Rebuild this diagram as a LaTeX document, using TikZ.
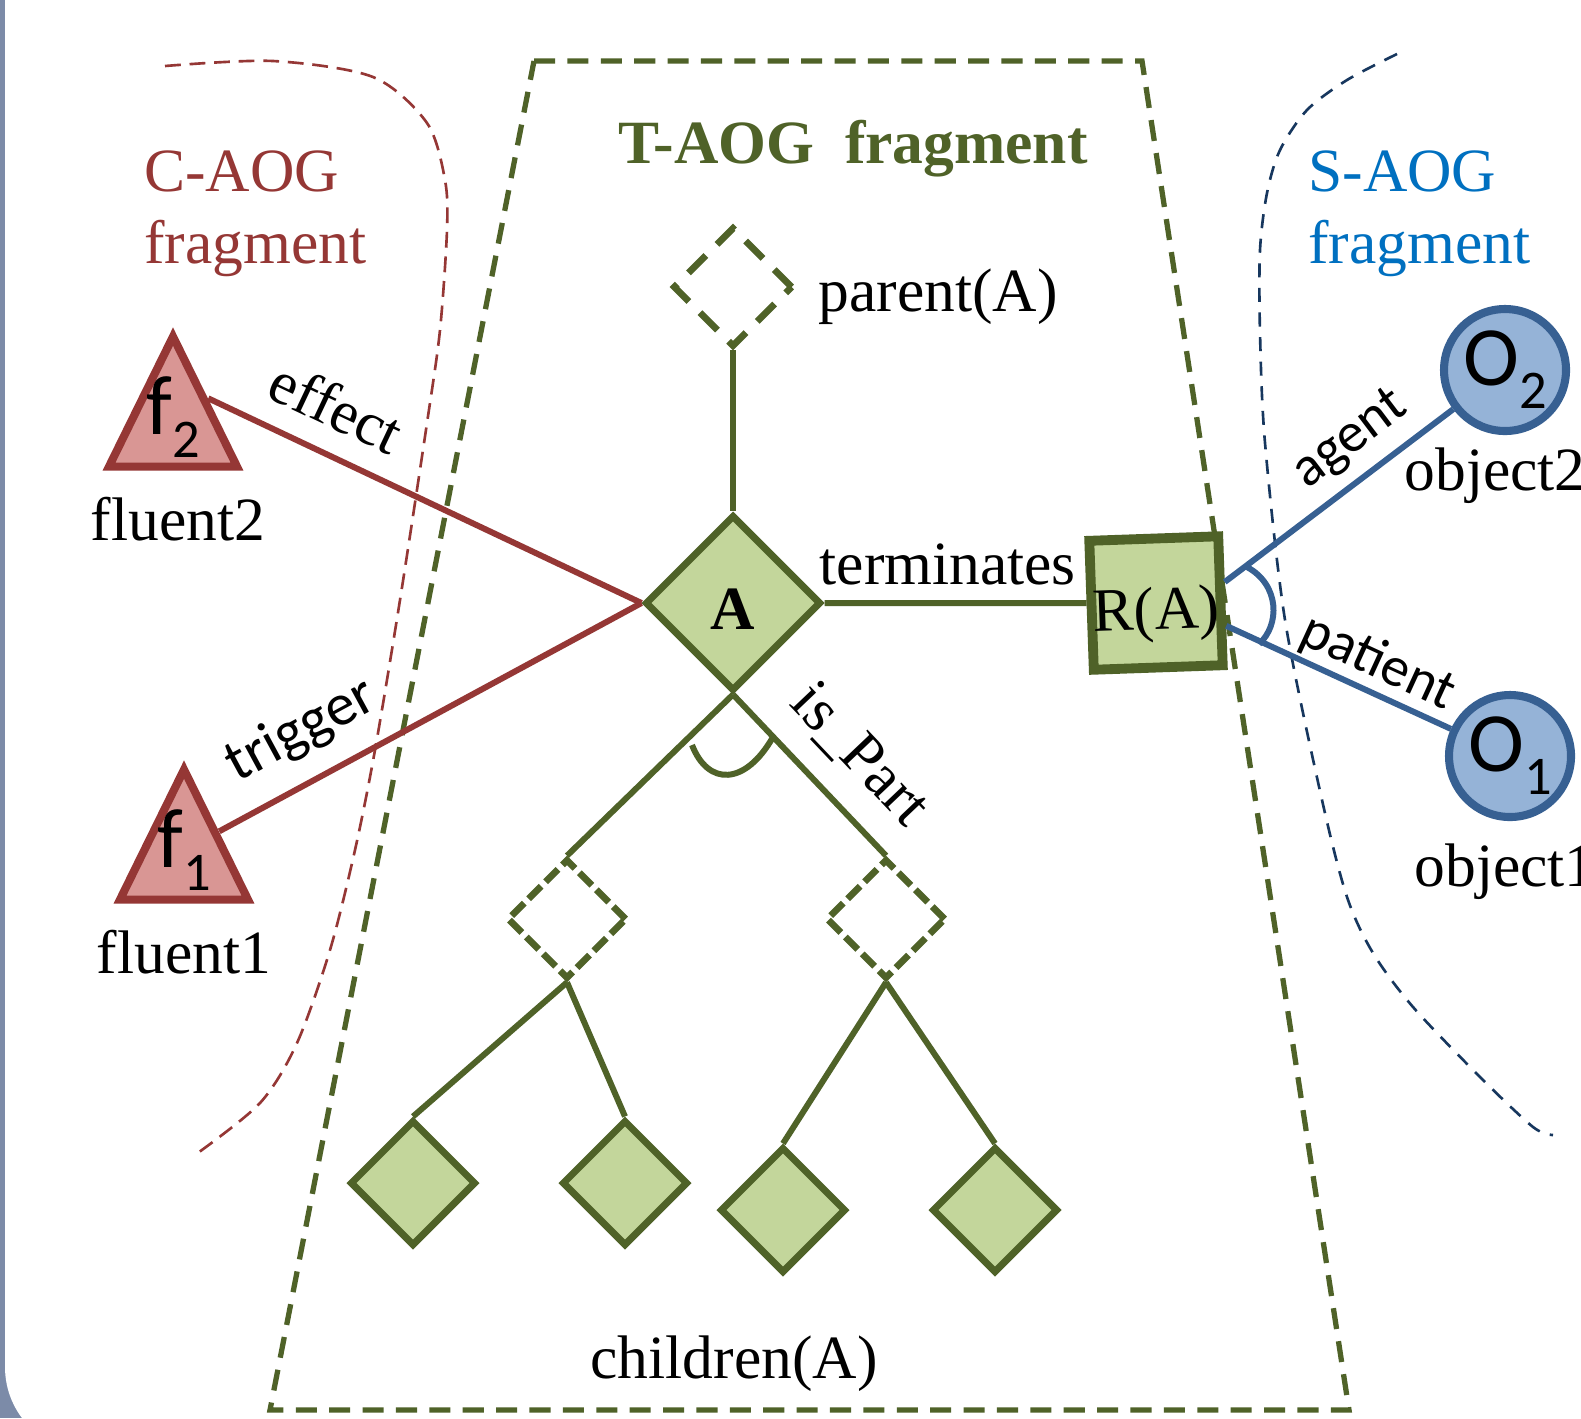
\documentclass[tikz,border=0pt]{standalone}
\usepackage{fontspec}
\setmainfont{Liberation Serif}
\newfontfamily\calibri{Carlito}
\usetikzlibrary{shapes.geometric,positioning}

\definecolor{tgreen}{HTML}{4F6228}
\definecolor{tfill}{HTML}{C3D69B}
\definecolor{cred}{HTML}{953735}
\definecolor{cfill}{HTML}{D99694}
\definecolor{sblue}{HTML}{376092}
\definecolor{sfill}{HTML}{95B3D7}
\definecolor{stext}{HTML}{0070C0}
\definecolor{sdash}{HTML}{17375E}
\definecolor{panel}{HTML}{7C8BA8}

\newcommand{\txtsize}{\fontsize{17.5}{20.5}\selectfont}
\newcommand{\symsize}{\fontsize{24}{24}\selectfont}
\newcommand{\subsym}[1]{\raisebox{-6.5pt}{\fontsize{15.5}{15.5}\selectfont #1}}
\newcommand{\fluent}[1]{\raisebox{2.6pt}[0pt][0pt]{f\subsym{#1}}}

\begin{document}
\begin{tikzpicture}[x=0.1mm,y=-0.1mm,font=\txtsize,
    andnode/.style={diamond,draw=tgreen,fill=tfill,line width=2pt,inner sep=0pt},
    ornode/.style={diamond,draw=tgreen,line width=1.9pt,inner sep=0pt},
    fluentnode/.style={isosceles triangle,isosceles triangle stretches,shape border rotate=90,
      minimum width=12.8mm,minimum height=13mm,draw=cred,fill=cfill,line width=2.3pt,
      inner sep=0pt,font=\calibri\symsize},
    objnode/.style={circle,draw=sblue,fill=sfill,line width=2.3pt,minimum size=12.2mm,
      inner sep=0pt,font=\calibri\symsize},
    tedge/.style={draw=tgreen,line width=1.7pt},
    cedge/.style={draw=cred,line width=1.7pt},
    sedge/.style={draw=sblue,line width=1.7pt},
    relfont/.style={font=\calibri\fontsize{16}{16}\selectfont}]

  \useasboundingbox (0,0) rectangle (1581,1418);
  \fill[panel] (0,0) rectangle (120,1418);
  \fill[white,rounded corners=8.5mm] (5,-100) rectangle (1700,1452);

  % fragment borders
  \draw[cred,line width=0.75pt,dash pattern=on 4.5pt off 2.5pt] plot[smooth] coordinates {
    (165,66) (273,61) (373,77) (427,123) (445,180) (447,230) (440,330) (427,423)
    (400,600) (375,750) (355,850) (330,950) (297,1043) (260,1103) (195,1155)};
  \draw[sdash,line width=0.75pt,dash pattern=on 4pt off 3pt] plot[smooth] coordinates {
    (1397,54) (1347,80) (1307,110) (1280,150) (1267,193) (1260,250) (1260,333) (1265,443)
    (1285,620) (1322,800) (1347,897) (1373,953) (1413,1007) (1480,1077) (1533,1127) (1553,1135)};
  \draw[tgreen,line width=1.5pt,dash pattern=on 6pt off 3.5pt]
    (534,61) -- (1142,61) -- (1349,1410) -- (270,1410) -- cycle;

  \node[text=cred,align=left,anchor=north west] (ctitle) at (132,138) {C-AOG\\fragment};
  \node[text=stext,align=left,anchor=north west] (stitle) at (1296,138) {S-AOG\\fragment};
  \node[text=tgreen,font=\bfseries\txtsize] (ttitle) at (853,149) {T-AOG\hspace{0.5em}fragment};

  % T-AOG
  \node[andnode,minimum size=17.6mm,font=\bfseries\txtsize,text height=15pt,text depth=0pt] (A) at (733,603) {A};
  \node[ornode,minimum size=12mm,dash pattern=on 7pt off 4.5pt] (pa) at (733,287) {};
  \node[right=1mm of pa,yshift=-1mm] (paname) {parent(A)};
  \begin{scope}[every node/.style={ornode,minimum size=12mm,dash pattern=on 5pt off 1.8pt}]
    \node (dl) at (567,919) {};
    \node (dr) at (886,919) {};
  \end{scope}
  \begin{scope}[every node/.style={andnode,minimum size=12.6mm}]
    \node (c1) at (413,1183) {};
    \node (c2) at (625,1183) {};
    \node (c3) at (783,1210) {};
    \node (c4) at (995,1210) {};
  \end{scope}
  \node (chname) at (734,1364) {children(A)};
  \node[draw=tgreen,fill=tfill,line width=2.8pt,minimum size=12.9mm,inner sep=0pt,rotate=2,
    text height=15pt,text depth=0pt] (R) at (1156,603) {R(A)};

  % C-AOG
  \node[fluentnode,anchor=apex] (f2) at (173,326) {\fluent{2}};
  \node[fluentnode,anchor=apex] (f1) at (184,759) {\fluent{1}};
  \node[below=1.4mm of f2,xshift=0.5mm] (f2name) {fluent2};
  \node[below=1.4mm of f1] (f1name) {fluent1};

  % S-AOG
  \node[objnode] (O2) at (1505,370) {O\subsym{2}};
  \node[objnode] (O1) at (1510,756) {O\subsym{1}};
  \node[below=0mm of O2,xshift=-1mm] (O2name) {object2};
  \node[below=1mm of O1,xshift=-0.5mm] (O1name) {object1};

  \draw[tedge] (pa) -- (A);
  \draw[tedge] (A) -- node[pos=0.47,above=1pt] (term) {terminates} (R);
  \draw[tedge] (A.south) -- (dl.north);
  \draw[tedge] (A.south) -- node[sloped,pos=0.59,above=3pt] (isp) {is\_Part} (dr.north);
  \draw[tedge] (dl.south) -- (c1.north);
  \draw[tedge] (dl.south) -- (c2.north);
  \draw[tedge] (dr.south) -- (c3.north);
  \draw[tedge] (dr.south) -- (c4.north);
  \draw[tedge] (692,745) .. controls (708,786) and (745,786) .. (773,737);

  \draw[cedge] (f2.right side) -- node[sloped,pos=0.25,above=3pt] (eff) {effect} (A.west);
  \draw[cedge] (f1.right side) -- node[sloped,pos=0.25,above=2.5pt,font=\calibri\fontsize{17}{17}\selectfont] (trg) {trigger} (A.west);

  \draw[sedge] (R.15) -- node[sloped,pos=0.65,above,relfont] (agt) {agent} (O2);
  \draw[sedge] (R.-20) -- node[sloped,pos=0.62,above=-2.5pt,relfont] (pat) {patient} (O1);
  \draw[sedge] (1247,567) .. controls (1280,585) and (1280,625) .. (1259,644);

\end{tikzpicture}
\end{document}
